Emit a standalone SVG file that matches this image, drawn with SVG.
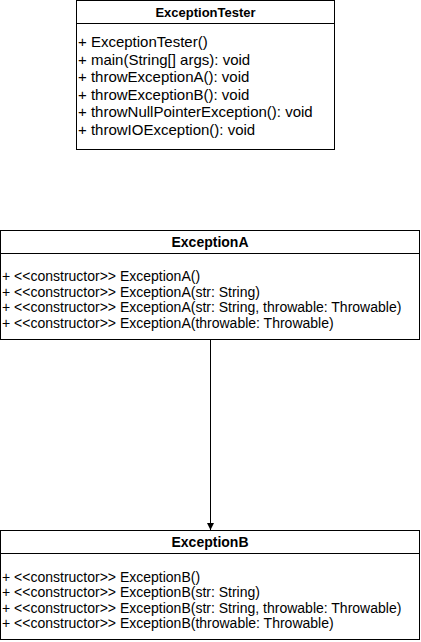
<svg xmlns="http://www.w3.org/2000/svg" width="421" height="642" viewBox="0 0 421 642">
<defs>
<style>
.box{fill:#fff;stroke:#000;stroke-width:1}
.sep{stroke:#000;stroke-width:1}
.hd{font-family:"Liberation Sans",Arial,sans-serif;font-weight:bold;font-size:14px;fill:#000;text-anchor:middle}
.tr{font-family:"Liberation Sans",Arial,sans-serif;font-size:15px;fill:#000}
.ab{font-family:"Liberation Sans",Arial,sans-serif;font-size:14px;fill:#000}
.edge{stroke:#000;stroke-width:1;fill:none}
</style>
<marker id="arr" viewBox="0 0 10 10" refX="10" refY="5" markerWidth="7" markerHeight="8" orient="auto" markerUnits="userSpaceOnUse">
<path d="M0,0 L10,5 L0,10 Z" fill="#000"/>
</marker>
</defs>
<rect width="421" height="642" fill="#fff"/>
<g id="ExceptionTester">
<rect class="box" x="76.5" y="0.5" width="258" height="149"/>
<line class="sep" x1="76.5" y1="23.5" x2="334.5" y2="23.5"/>
<text class="hd" x="205.5" y="17" style="font-size:13px">ExceptionTester</text>
<text class="tr" x="78" y="47">+ ExceptionTester()</text>
<text class="tr" x="78" y="64.5">+ main(String[] args): void</text>
<text class="tr" x="78" y="82">+ throwExceptionA(): void</text>
<text class="tr" x="78" y="99.5">+ throwExceptionB(): void</text>
<text class="tr" x="78" y="117">+ throwNullPointerException(): void</text>
<text class="tr" x="78" y="134.5">+ throwIOException(): void</text>
</g>
<g id="ExceptionA">
<rect class="box" x="0.5" y="230.5" width="419" height="109"/>
<line class="sep" x1="0.5" y1="253.5" x2="419.5" y2="253.5"/>
<text class="hd" x="210" y="247">ExceptionA</text>
<text class="ab" x="2" y="281">+ &lt;&lt;constructor&gt;&gt; ExceptionA()</text>
<text class="ab" x="2" y="296.5">+ &lt;&lt;constructor&gt;&gt; ExceptionA(str: String)</text>
<text class="ab" x="2" y="312">+ &lt;&lt;constructor&gt;&gt; ExceptionA(str: String, throwable: Throwable)</text>
<text class="ab" x="2" y="327.5">+ &lt;&lt;constructor&gt;&gt; ExceptionA(throwable: Throwable)</text>
</g>
<g id="ExceptionB">
<rect class="box" x="0.5" y="530.5" width="419" height="109"/>
<line class="sep" x1="0.5" y1="553.5" x2="419.5" y2="553.5"/>
<text class="hd" x="210" y="547">ExceptionB</text>
<text class="ab" x="2" y="581.5">+ &lt;&lt;constructor&gt;&gt; ExceptionB()</text>
<text class="ab" x="2" y="597">+ &lt;&lt;constructor&gt;&gt; ExceptionB(str: String)</text>
<text class="ab" x="2" y="612.5">+ &lt;&lt;constructor&gt;&gt; ExceptionB(str: String, throwable: Throwable)</text>
<text class="ab" x="2" y="628">+ &lt;&lt;constructor&gt;&gt; ExceptionB(throwable: Throwable)</text>
</g>
<g id="connectors">
<line class="edge" x1="210.5" y1="340" x2="210.5" y2="530" marker-end="url(#arr)"/>
</g>
</svg>
